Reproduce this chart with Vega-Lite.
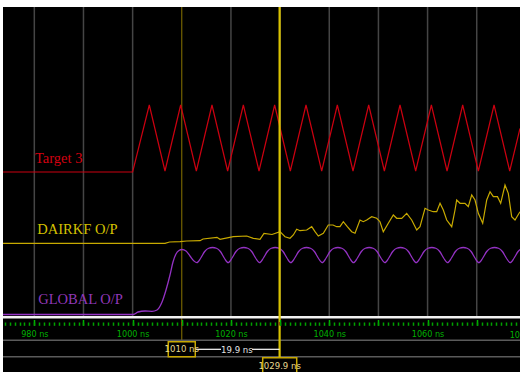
{
  "$schema": "https://vega.github.io/schema/vega-lite/v6.json",
  "width": 517,
  "height": 365,
  "autosize": {"type": "none"},
  "padding": {"left": 3, "top": 7, "right": 0, "bottom": 0},
  "background": "#ffffff",
  "config": {"view": {"fill": "#000000", "stroke": null}},
  "resolve": {"axis": {"x": "independent"}},
  "datasets": {
    "grid": [{"t": 980}, {"t": 990}, {"t": 1000}, {"t": 1020}, {"t": 1030}, {"t": 1040}, {"t": 1050}, {"t": 1060}, {"t": 1070}],
    "red": [
      {"t": 973.63, "v": 40.0}, {"t": 1000.0, "v": 40.0},
      {"t": 1003.39, "v": 53.4}, {"t": 1006.58, "v": 40.2},
      {"t": 1009.77, "v": 53.4}, {"t": 1012.96, "v": 40.2},
      {"t": 1016.14, "v": 53.4}, {"t": 1019.33, "v": 40.2},
      {"t": 1022.52, "v": 53.4}, {"t": 1025.71, "v": 40.2},
      {"t": 1028.89, "v": 53.4}, {"t": 1032.08, "v": 40.2},
      {"t": 1035.27, "v": 53.4}, {"t": 1038.46, "v": 40.2},
      {"t": 1041.64, "v": 53.4}, {"t": 1044.83, "v": 40.2},
      {"t": 1048.02, "v": 53.4}, {"t": 1051.21, "v": 40.2},
      {"t": 1054.39, "v": 53.4}, {"t": 1057.58, "v": 40.2},
      {"t": 1060.77, "v": 53.4}, {"t": 1063.96, "v": 40.2},
      {"t": 1067.14, "v": 53.4}, {"t": 1070.33, "v": 40.2},
      {"t": 1073.52, "v": 53.4}, {"t": 1076.71, "v": 40.2},
      {"t": 1078.8, "v": 48.7}
    ],
    "dairkf": [
      {"t": 973.63, "v": 25.74}, {"t": 1006.59, "v": 25.74}, {"t": 1007.5, "v": 26.0}, {"t": 1009.64, "v": 26.06},
      {"t": 1011.0, "v": 26.2}, {"t": 1013.71, "v": 26.26}, {"t": 1014.32, "v": 26.6}, {"t": 1017.16, "v": 26.94},
      {"t": 1017.77, "v": 26.54}, {"t": 1020.48, "v": 27.06}, {"t": 1023.21, "v": 27.2}, {"t": 1024.55, "v": 26.74},
      {"t": 1025.91, "v": 26.54}, {"t": 1026.72, "v": 27.74}, {"t": 1028.35, "v": 27.5}, {"t": 1029.98, "v": 28.06},
      {"t": 1031.0, "v": 27.06}, {"t": 1032.01, "v": 26.74}, {"t": 1032.69, "v": 27.4}, {"t": 1033.38, "v": 28.54},
      {"t": 1034.05, "v": 28.26}, {"t": 1035.41, "v": 28.4}, {"t": 1036.43, "v": 29.06}, {"t": 1037.1, "v": 28.06},
      {"t": 1037.77, "v": 27.2}, {"t": 1038.79, "v": 27.74}, {"t": 1039.8, "v": 29.4}, {"t": 1040.76, "v": 29.4},
      {"t": 1041.51, "v": 29.06}, {"t": 1042.18, "v": 29.06}, {"t": 1042.86, "v": 30.06}, {"t": 1043.67, "v": 29.06},
      {"t": 1044.56, "v": 28.06}, {"t": 1045.24, "v": 27.74}, {"t": 1046.25, "v": 30.4}, {"t": 1046.92, "v": 30.06},
      {"t": 1047.62, "v": 30.4}, {"t": 1048.63, "v": 31.06}, {"t": 1049.65, "v": 30.74}, {"t": 1050.32, "v": 30.06},
      {"t": 1050.99, "v": 28.06}, {"t": 1052.01, "v": 29.74}, {"t": 1053.03, "v": 31.4}, {"t": 1053.72, "v": 30.74},
      {"t": 1054.74, "v": 30.74}, {"t": 1055.75, "v": 31.74}, {"t": 1056.77, "v": 30.4}, {"t": 1057.79, "v": 28.4},
      {"t": 1058.46, "v": 29.06}, {"t": 1059.48, "v": 32.74}, {"t": 1060.15, "v": 32.4}, {"t": 1061.16, "v": 32.06},
      {"t": 1061.86, "v": 32.06}, {"t": 1062.53, "v": 33.74}, {"t": 1063.2, "v": 32.4}, {"t": 1063.89, "v": 30.4},
      {"t": 1064.91, "v": 29.06}, {"t": 1065.58, "v": 32.4}, {"t": 1065.92, "v": 34.4}, {"t": 1066.6, "v": 33.74},
      {"t": 1067.61, "v": 33.74}, {"t": 1068.28, "v": 33.06}, {"t": 1068.98, "v": 35.4}, {"t": 1069.65, "v": 34.4},
      {"t": 1070.32, "v": 31.74}, {"t": 1071.21, "v": 29.74}, {"t": 1072.03, "v": 34.4}, {"t": 1072.7, "v": 36.06},
      {"t": 1073.37, "v": 35.06}, {"t": 1074.22, "v": 35.06}, {"t": 1074.87, "v": 33.74}, {"t": 1075.75, "v": 37.4},
      {"t": 1076.42, "v": 35.74}, {"t": 1077.11, "v": 31.06}, {"t": 1077.78, "v": 30.4}, {"t": 1078.8, "v": 32.06}
    ],
    "global": [
      {"t": 973.63, "v": 11.5}, {"t": 1000.14, "v": 11.5}, {"t": 1001.09, "v": 12.0}, {"t": 1002.52, "v": 12.2},
      {"t": 1003.94, "v": 12.14}, {"t": 1004.96, "v": 12.4}, {"t": 1005.98, "v": 14.0}, {"t": 1006.79, "v": 16.4},
      {"t": 1007.6, "v": 19.4}, {"t": 1008.21, "v": 22.0}, {"t": 1008.82, "v": 23.6}, {"t": 1009.43, "v": 24.3},
      {"t": 1010.04, "v": 24.5}, {"t": 1010.86, "v": 24.2}, {"t": 1011.67, "v": 23.2}, {"t": 1012.48, "v": 22.2},
      {"t": 1013.06, "v": 21.86}, {"t": 1013.86, "v": 22.8}, {"t": 1014.66, "v": 24.1}, {"t": 1015.46, "v": 24.75}, {"t": 1016.25, "v": 24.9}, {"t": 1017.05, "v": 24.75}, {"t": 1017.85, "v": 24.1}, {"t": 1018.64, "v": 22.8},
      {"t": 1019.43, "v": 21.86}, {"t": 1020.23, "v": 22.8}, {"t": 1021.03, "v": 24.1}, {"t": 1021.83, "v": 24.75}, {"t": 1022.62, "v": 24.9}, {"t": 1023.42, "v": 24.75}, {"t": 1024.22, "v": 24.1}, {"t": 1025.01, "v": 22.8},
      {"t": 1025.81, "v": 21.86}, {"t": 1026.61, "v": 22.8}, {"t": 1027.41, "v": 24.1}, {"t": 1028.21, "v": 24.75}, {"t": 1029.0, "v": 24.9}, {"t": 1029.8, "v": 24.75}, {"t": 1030.6, "v": 24.1}, {"t": 1031.39, "v": 22.8},
      {"t": 1032.18, "v": 21.86}, {"t": 1032.98, "v": 22.8}, {"t": 1033.78, "v": 24.1}, {"t": 1034.58, "v": 24.75}, {"t": 1035.37, "v": 24.9}, {"t": 1036.17, "v": 24.75}, {"t": 1036.97, "v": 24.1}, {"t": 1037.76, "v": 22.8},
      {"t": 1038.56, "v": 21.86}, {"t": 1039.36, "v": 22.8}, {"t": 1040.16, "v": 24.1}, {"t": 1040.96, "v": 24.75}, {"t": 1041.75, "v": 24.9}, {"t": 1042.55, "v": 24.75}, {"t": 1043.35, "v": 24.1}, {"t": 1044.14, "v": 22.8},
      {"t": 1044.93, "v": 21.86}, {"t": 1045.73, "v": 22.8}, {"t": 1046.53, "v": 24.1}, {"t": 1047.33, "v": 24.75}, {"t": 1048.12, "v": 24.9}, {"t": 1048.92, "v": 24.75}, {"t": 1049.72, "v": 24.1}, {"t": 1050.51, "v": 22.8},
      {"t": 1051.31, "v": 21.86}, {"t": 1052.11, "v": 22.8}, {"t": 1052.91, "v": 24.1}, {"t": 1053.71, "v": 24.75}, {"t": 1054.5, "v": 24.9}, {"t": 1055.3, "v": 24.75}, {"t": 1056.1, "v": 24.1}, {"t": 1056.89, "v": 22.8},
      {"t": 1057.68, "v": 21.86}, {"t": 1058.48, "v": 22.8}, {"t": 1059.28, "v": 24.1}, {"t": 1060.08, "v": 24.75}, {"t": 1060.87, "v": 24.9}, {"t": 1061.67, "v": 24.75}, {"t": 1062.47, "v": 24.1}, {"t": 1063.26, "v": 22.8},
      {"t": 1064.06, "v": 21.86}, {"t": 1064.86, "v": 22.8}, {"t": 1065.66, "v": 24.1}, {"t": 1066.46, "v": 24.75}, {"t": 1067.25, "v": 24.9}, {"t": 1068.05, "v": 24.75}, {"t": 1068.85, "v": 24.1}, {"t": 1069.64, "v": 22.8},
      {"t": 1070.43, "v": 21.86}, {"t": 1071.23, "v": 22.8}, {"t": 1072.03, "v": 24.1}, {"t": 1072.83, "v": 24.75}, {"t": 1073.62, "v": 24.9}, {"t": 1074.42, "v": 24.75}, {"t": 1075.22, "v": 24.1}, {"t": 1076.01, "v": 22.8},
      {"t": 1076.81, "v": 21.86}, {"t": 1077.61, "v": 22.8}, {"t": 1078.41, "v": 24.1}, {"t": 1078.8, "v": 24.5}
    ],
    "labels": [
      {"name": "Target 3", "t": 980.14, "v": 41.8},
      {"name": "DAIRKF O/P", "t": 980.61, "v": 27.6},
      {"name": "GLOBAL O/P", "t": 980.81, "v": 13.6}
    ],
    "markers": [
      {"name": "ref", "t": 1010, "label": "1010 ns", "t0": 1007.25, "t1": 1012.74},
      {"name": "cursor", "t": 1029.9, "label": "1029.9 ns", "t0": 1026.46, "t1": 1033.38}
    ],
    "span": [{"a": 1012.74, "b": 1017.98}, {"a": 1024.28, "b": 1029.88}],
    "spanlabel": [{"t": 1021.2, "label": "19.9 ns"}],
    "edge": [{"t": 1080, "label": "1080 ns"}],
    "white": [{"v": 10.94}],
    "greys": [{"v": 6.34}, {"v": 3.06}]
  },
  "layer": [
    {
      "data": {"name": "grid"},
      "mark": {"type": "rule", "color": "#454545", "strokeWidth": 1.5},
      "encoding": {
        "x": {"field": "t", "type": "quantitative", "scale": {"domain": [973.63, 1078.8], "nice": false, "zero": false},
          "axis": {"orient": "bottom", "offset": -52.5, "values": [980, 990, 1000, 1010, 1020, 1030, 1040, 1050, 1060, 1070],
            "tickSize": 5.8, "tickWidth": 1.5, "tickColor": "#00b400", "domain": false, "grid": false, "title": null,
            "labelExpr": "datum.value % 20 === 0 ? datum.value + ' ns' : ''", "labelColor": "#00b000",
            "labelFont": "Liberation Sans Narrow, DejaVu Sans Condensed, sans-serif", "labelFontSize": 9, "labelPadding": 4,
            "labelFlush": false, "labelOverlap": false, "labelBound": false, "zindex": 1}},
        "y": {"datum": 73, "type": "quantitative", "scale": {"domain": [0, 73], "nice": false, "zero": false}, "axis": null},
        "y2": {"datum": 10.94}
      }
    },
    {
      "data": {"name": "markers"},
      "transform": [{"filter": "datum.name === 'ref'"}],
      "mark": {"type": "rule", "color": "#8a7600", "strokeWidth": 1},
      "encoding": {
        "x": {"field": "t", "type": "quantitative", "axis": null},
        "y": {"datum": 73, "type": "quantitative", "axis": null},
        "y2": {"datum": 6.06}
      }
    },
    {
      "data": {"name": "red"},
      "mark": {"type": "line", "color": "#cc0010", "strokeWidth": 1.2},
      "encoding": {
        "x": {"field": "t", "type": "quantitative",
          "axis": {"orient": "bottom", "offset": -50, "tickCount": 105, "tickSize": 3.3, "tickWidth": 1.5, "tickColor": "#00a000",
            "labels": false, "domain": false, "grid": false, "title": null, "zindex": 1}},
        "y": {"field": "v", "type": "quantitative", "axis": null}
      }
    },
    {
      "data": {"name": "dairkf"},
      "mark": {"type": "line", "color": "#c8aa00", "strokeWidth": 1.2},
      "encoding": {
        "x": {"field": "t", "type": "quantitative", "axis": null},
        "y": {"field": "v", "type": "quantitative", "axis": null}
      }
    },
    {
      "data": {"name": "global"},
      "mark": {"type": "line", "color": "#9432c4", "strokeWidth": 1.3, "interpolate": "monotone"},
      "encoding": {
        "x": {"field": "t", "type": "quantitative", "axis": null},
        "y": {"field": "v", "type": "quantitative", "axis": null}
      }
    },
    {
      "data": {"name": "labels"},
      "mark": {"type": "text", "align": "left", "baseline": "alphabetic", "font": "Liberation Serif", "fontSize": 14.5},
      "encoding": {
        "x": {"field": "t", "type": "quantitative", "axis": null},
        "y": {"field": "v", "type": "quantitative", "axis": null},
        "text": {"field": "name"},
        "color": {"field": "name", "type": "nominal", "legend": null,
          "scale": {"domain": ["Target 3", "DAIRKF O/P", "GLOBAL O/P"], "range": ["#d40010", "#d4c000", "#9038b8"]}}
      }
    },
    {
      "data": {"name": "white"},
      "mark": {"type": "rule", "color": "#f2f2f2", "strokeWidth": 2.5},
      "encoding": {"y": {"field": "v", "type": "quantitative", "axis": null}}
    },
    {
      "data": {"name": "greys"},
      "mark": {"type": "rule", "color": "#5a5a5a", "strokeWidth": 1.5},
      "encoding": {"y": {"field": "v", "type": "quantitative", "axis": null}}
    },
    {
      "data": {"name": "edge"},
      "mark": {"type": "text", "align": "center", "baseline": "middle", "font": "Liberation Sans Narrow, DejaVu Sans Condensed, sans-serif", "fontSize": 9, "color": "#00b000"},
      "encoding": {
        "x": {"field": "t", "type": "quantitative", "axis": null},
        "y": {"datum": 7.44, "type": "quantitative", "axis": null},
        "text": {"field": "label"}
      }
    },
    {
      "data": {"name": "markers"},
      "transform": [{"filter": "datum.name === 'cursor'"}],
      "mark": {"type": "rule", "color": "#d8c200", "strokeWidth": 2.2},
      "encoding": {
        "x": {"field": "t", "type": "quantitative", "axis": null},
        "y": {"datum": 73, "type": "quantitative", "axis": null},
        "y2": {"datum": 2.86}
      }
    },
    {
      "data": {"name": "markers"},
      "mark": {"type": "rule", "color": "#e01000", "strokeWidth": 1.5},
      "encoding": {
        "x": {"field": "t", "type": "quantitative", "axis": null},
        "y": {"datum": 10.0, "type": "quantitative", "axis": null},
        "y2": {"datum": 9.34}
      }
    },
    {
      "data": {"name": "span"},
      "mark": {"type": "rule", "color": "#ffffff", "strokeWidth": 1.2},
      "encoding": {
        "x": {"field": "a", "type": "quantitative", "axis": null},
        "x2": {"field": "b"},
        "y": {"datum": 4.54, "type": "quantitative", "axis": null}
      }
    },
    {
      "data": {"name": "spanlabel"},
      "mark": {"type": "text", "align": "center", "baseline": "middle", "font": "Liberation Sans Narrow, DejaVu Sans Condensed, sans-serif", "fontSize": 9.5, "color": "#e4e4e4"},
      "encoding": {
        "x": {"field": "t", "type": "quantitative", "axis": null},
        "y": {"datum": 4.4, "type": "quantitative", "axis": null},
        "text": {"field": "label"}
      }
    },
    {
      "data": {"name": "markers"},
      "transform": [{"filter": "datum.name === 'ref'"}],
      "mark": {"type": "rect", "fill": "#000000", "stroke": "#c8a800", "strokeWidth": 1.5},
      "encoding": {
        "x": {"field": "t0", "type": "quantitative", "axis": null},
        "x2": {"field": "t1"},
        "y": {"datum": 6.06, "type": "quantitative", "axis": null},
        "y2": {"datum": 3.06}
      }
    },
    {
      "data": {"name": "markers"},
      "transform": [{"filter": "datum.name === 'cursor'"}],
      "mark": {"type": "rect", "fill": "#000000", "stroke": "#c8a800", "strokeWidth": 1.5},
      "encoding": {
        "x": {"field": "t0", "type": "quantitative", "axis": null},
        "x2": {"field": "t1"},
        "y": {"datum": 2.86, "type": "quantitative", "axis": null},
        "y2": {"datum": -0.6}
      }
    },
    {
      "data": {"name": "markers"},
      "transform": [{"filter": "datum.name === 'ref'"}],
      "mark": {"type": "text", "align": "center", "baseline": "middle", "font": "Liberation Sans Narrow, DejaVu Sans Condensed, sans-serif", "fontSize": 9.5, "color": "#e8d890"},
      "encoding": {
        "x": {"field": "t", "type": "quantitative", "axis": null},
        "y": {"datum": 4.56, "type": "quantitative", "axis": null},
        "text": {"field": "label"}
      }
    },
    {
      "data": {"name": "markers"},
      "transform": [{"filter": "datum.name === 'cursor'"}],
      "mark": {"type": "text", "align": "center", "baseline": "middle", "font": "Liberation Sans Narrow, DejaVu Sans Condensed, sans-serif", "fontSize": 9.5, "color": "#e8d890"},
      "encoding": {
        "x": {"field": "t", "type": "quantitative", "axis": null},
        "y": {"datum": 1.3, "type": "quantitative", "axis": null},
        "text": {"field": "label"}
      }
    }
  ]
}
